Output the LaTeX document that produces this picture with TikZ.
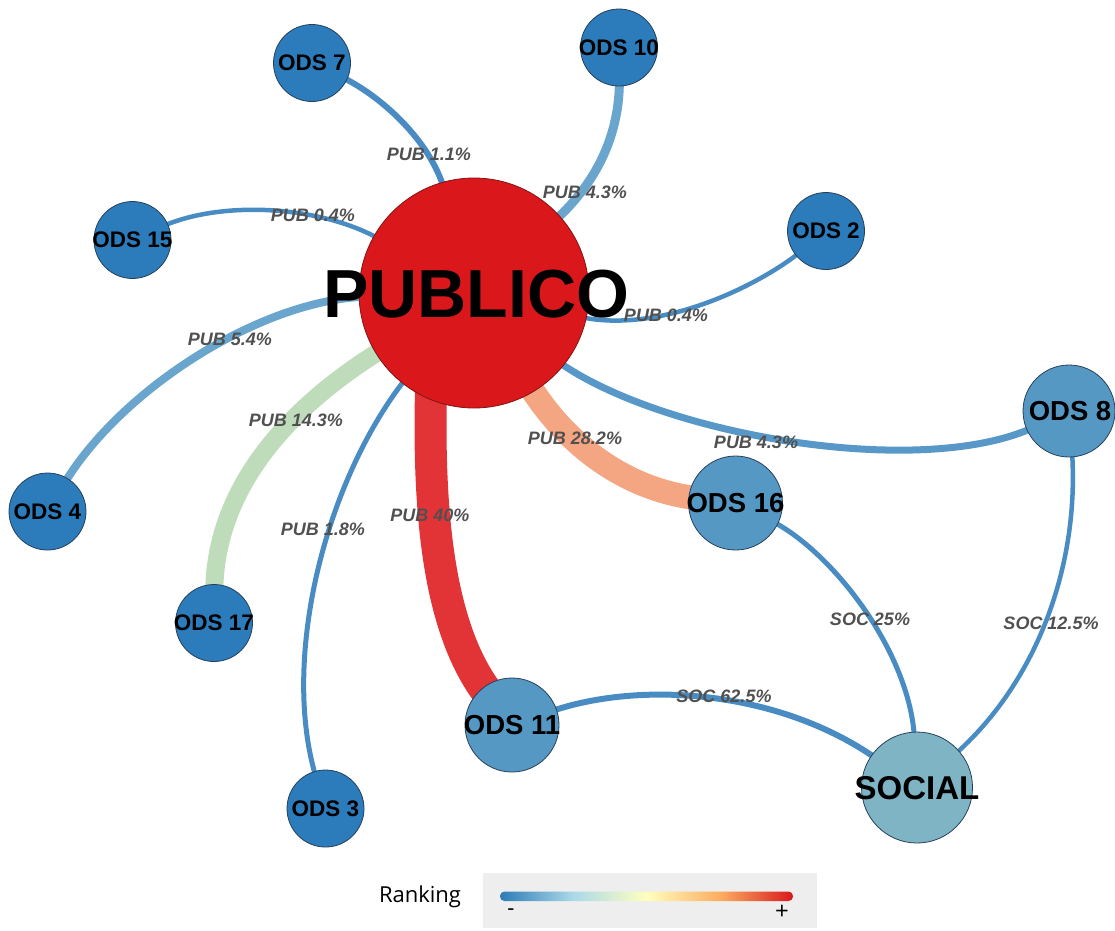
\documentclass[tikz,border=0pt]{standalone}
\usepackage{fontspec}
\setmainfont{Liberation Sans}
\newfontfamily\legendfont{Open Sans}
\usetikzlibrary{backgrounds}

% node fills
\definecolor{nodeA}{RGB}{44,123,187}
\definecolor{nodeB}{RGB}{86,152,196}
\definecolor{nodeS}{RGB}{127,180,196}
\definecolor{pubred}{RGB}{218,24,28}
\definecolor{nodeEdge}{RGB}{39,64,90}
\definecolor{pubEdge}{RGB}{130,20,20}
% edge colours
\definecolor{eblue}{RGB}{72,140,195}
\definecolor{eblueL}{RGB}{105,165,205}
\definecolor{eblueM}{RGB}{88,152,200}
\definecolor{egreen}{RGB}{190,220,185}
\definecolor{esalmon}{RGB}{244,165,130}
\definecolor{ered}{RGB}{226,52,54}
\definecolor{labgrey}{RGB}{80,80,80}
\definecolor{legbg}{RGB}{238,238,238}
% ranking scale
\definecolor{rkA}{RGB}{44,123,182}
\definecolor{rkB}{RGB}{171,217,233}
\definecolor{rkC}{RGB}{255,255,191}
\definecolor{rkD}{RGB}{253,174,97}
\definecolor{rkE}{RGB}{215,25,28}

\pgfdeclarehorizontalshading{rankbar}{100bp}{color(0bp)=(rkA); color(25bp)=(rkA); color(37.5bp)=(rkB); color(50bp)=(rkC); color(62.5bp)=(rkD); color(75bp)=(rkE); color(100bp)=(rkE)}

\tikzset{
  odsA/.style={circle, fill=nodeA, draw=nodeEdge, line width=0.8pt, minimum size=77pt, inner sep=0pt},
  odsB/.style={circle, fill=nodeB, draw=nodeEdge, line width=0.8pt, minimum size=94pt, inner sep=0pt},
  socnode/.style={circle, fill=nodeS, draw=nodeEdge, line width=0.8pt, minimum size=111pt, inner sep=0pt},
  pubnode/.style={circle, fill=pubred, draw=pubEdge, line width=0.8pt, minimum size=230pt, inner sep=0pt},
  ntxt/.style={inner sep=0pt, font=\fontsize{22.5}{26}\selectfont\bfseries},
  ntxtB/.style={inner sep=0pt, font=\fontsize{27.5}{32}\selectfont\bfseries},
  elab/.style={inner sep=0pt, text=labgrey, font=\fontsize{18}{21}\selectfont\bfseries\itshape},
  edge/.style={shorten <=-8pt, shorten >=-8pt},
}

\begin{document}
\begin{tikzpicture}[x=1pt, y=-1pt]
\useasboundingbox (0,0) rectangle (1115,930);

% central node and its text
\node[pubnode] (pub) at (474,293) {};
\node[inner sep=0pt, font=\fontsize{68}{74}\selectfont\bfseries] (pubt) at (476,294) {PUBLICO};

% goal nodes
\node[odsA] (o7)  at (312,63)    {};
\node[odsA] (o10) at (619,47.5)  {};
\node[odsA] (o15) at (132.5,240) {};
\node[odsA] (o2)  at (826,231)   {};
\node[odsA] (o4)  at (47.5,511.5){};
\node[odsA] (o17) at (214,623)   {};
\node[odsA] (o3)  at (325.5,808.5){};
\node[odsB] (o11) at (512,725)   {};
\node[odsB] (o16) at (735.5,503) {};
\node[odsB, minimum size=92pt] (o8) at (1069,411) {};
\node[socnode] (soc) at (917,787.5) {};

\node[ntxt] (t7)  at (o7)  {ODS 7};
\node[ntxt] (t10) at (o10) {ODS 10};
\node[ntxt] (t15) at (o15) {ODS 15};
\node[ntxt] (t2)  at (o2)  {ODS 2};
\node[ntxt] (t4)  at (o4)  {ODS 4};
\node[ntxt] (t17) at (o17) {ODS 17};
\node[ntxt] (t3)  at (o3)  {ODS 3};
\node[ntxtB] (t11) at (o11) {ODS 11};
\node[ntxtB] (t16) at (o16) {ODS 16};
\node[ntxtB] (t8)  at (1070,411) {ODS 8};
\node[inner sep=0pt, font=\fontsize{33}{38}\selectfont\bfseries] (tsoc) at (917,788) {SOCIAL};

% connectors, behind the nodes
\begin{scope}[on background layer]
\draw[edge, line width=6pt, draw=eblue]    (o7)  .. controls (380,95) and (430,140) .. (pub);
\draw[edge, line width=9pt, draw=eblueL]   (o10) .. controls (620,130) and (600,180) .. (pub);
\draw[edge, line width=4.5pt, draw=eblue]  (o15) .. controls (220,200) and (320,205) .. (pub);
\draw[edge, line width=4.5pt, draw=eblue]  (o2)  .. controls (760,285) and (660,335) .. (pub);
\draw[edge, line width=8pt, draw=eblueL]   (o4)  .. controls (120,390) and (260,300) .. (pub);
\draw[edge, line width=18pt, draw=egreen]  (o17) .. controls (215,480) and (300,400) .. (pub);
\draw[edge, line width=5pt, draw=eblue]    (o3)  .. controls (280,660) and (325,480) .. (pub);
\draw[edge, line width=32pt, draw=ered]    (pub.248) .. controls (428,520) and (440,630) .. (o11);
\draw[edge, line width=24pt, draw=esalmon] (pub.-59) .. controls (570,450) and (630,490) .. (o16);
\draw[edge, line width=7pt, draw=eblueM]   (pub.-39.5) .. controls (660,435) and (920,480) .. (o8);
\draw[edge, line width=5pt, draw=eblue]    (o16) .. controls (830,550) and (910,650) .. (soc);
\draw[edge, line width=4.5pt, draw=eblue]  (o8)  .. controls (1080,560) and (1040,680) .. (soc);
\draw[edge, line width=6pt, draw=eblue]    (o11) .. controls (640,680) and (780,690) .. (soc);
\end{scope}

% connector labels
\node[elab] (l7)   at (429,154) {PUB 1.1\%};
\node[elab] (l10)  at (585,192) {PUB 4.3\%};
\node[elab] (l15)  at (313,215) {PUB 0.4\%};
\node[elab] (l2)   at (666,315) {PUB 0.4\%};
\node[elab] (l4)   at (230,339) {PUB 5.4\%};
\node[elab] (l17)  at (296,420) {PUB 14.3\%};
\node[elab] (l3)   at (323,529) {PUB 1.8\%};
\node[elab] (l11)  at (430,515) {PUB 40\%};
\node[elab] (l16)  at (575,438) {PUB 28.2\%};
\node[elab] (l8)   at (756,442) {PUB 4.3\%};
\node[elab] (ls16) at (870,619) {SOC 25\%};
\node[elab] (ls8)  at (1051,623) {SOC 12.5\%};
\node[elab] (ls11) at (724,696) {SOC 62.5\%};

% ranking scale
\node[inner sep=0pt, font=\legendfont\fontsize{22}{26}\selectfont] (rank) at (420,897) {Ranking};
\fill[legbg] (483,873) rectangle (817,928);
\shade[shading=rankbar, rounded corners=4.5pt] (500,891.5) rectangle (793,901);
\node[inner sep=0pt, font=\legendfont\fontsize{22}{26}\selectfont] (rminus) at (511,912) {-};
\node[inner sep=0pt, font=\legendfont\fontsize{24}{28}\selectfont] (rplus) at (782,912) {+};
\end{tikzpicture}
\end{document}
